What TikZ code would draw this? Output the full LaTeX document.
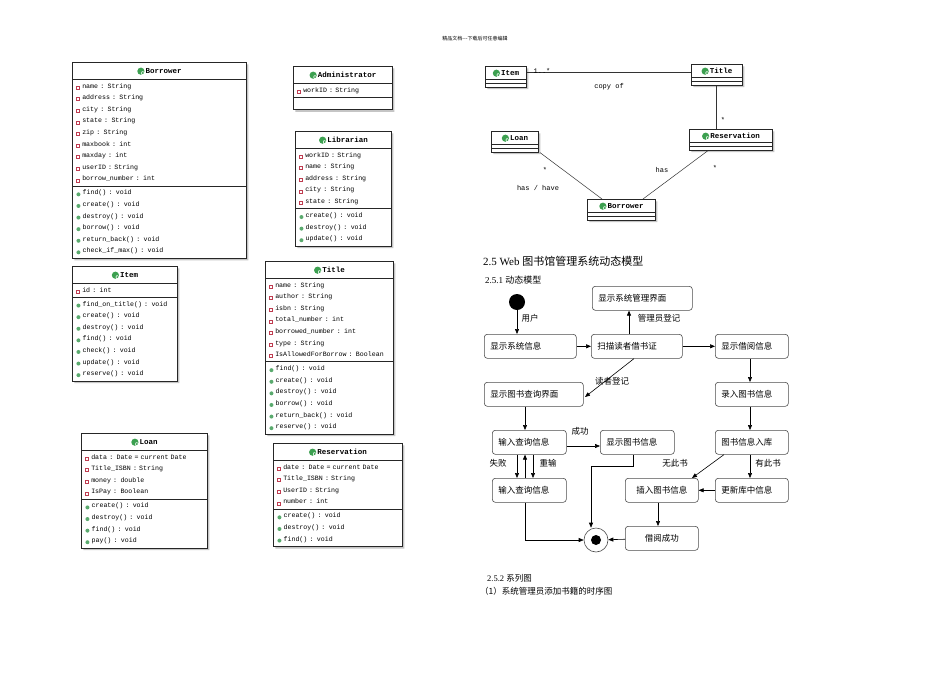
\documentclass[tikz,border=0pt]{standalone}
\usepackage{fontspec}
\setmainfont{Liberation Serif}
\newfontfamily\cjk{Noto Sans CJK SC}
\newfontfamily\mono{Liberation Mono}
\usetikzlibrary{shapes.multipart,shadows,arrows.meta}
\definecolor{attrc}{RGB}{190,60,80}
\definecolor{methc}{RGB}{90,170,110}
\definecolor{iconc}{RGB}{60,160,80}
\newcommand\atr{\tikz[baseline=-2pt]\draw[attrc,line width=0.6pt] (0pt,0pt) rectangle (3pt,-3pt);\ }
\newcommand\mth{\tikz[baseline=-2pt]\fill[methc] (1.5pt,-1.5pt) circle (2pt);\ }
\newcommand\cic{\tikz[baseline=-2.2pt]{\fill[iconc] (0pt,0pt) circle (3.6pt);\node[white,font=\bfseries\fontsize{5.5}{5.5}\selectfont,inner sep=0,text width={},align=center,rectangle] at (0pt,0pt) {C};}\,}
\tikzset{
 cls/.style={rectangle split,rectangle split parts=3,draw=black!85,line width=0.9pt,fill=white,
   drop shadow={shadow xshift=2pt,shadow yshift=-2pt,fill=black!45},
   anchor=north west,text width=#1,align=left,inner xsep=4pt,inner ysep=3.5pt,
   font=\mono\fontsize{6.6}{11.6}\selectfont,rectangle split empty part height=3pt},
 scls/.style={cls=#1,inner ysep=1.5pt,rectangle split empty part height=5pt},
 act/.style={draw=black!70,line width=0.6pt,rounded corners=3pt,fill=white,minimum height=24pt,
   font=\cjk\fontsize{8.5}{10}\selectfont,text=black,align=left},
 lab/.style={font=\cjk\fontsize{8.5}{10}\selectfont,inner sep=1pt},
 arr/.style={-{Triangle[length=5pt,width=4pt]},line width=0.6pt},
 asc/.style={line width=0.5pt,black!80},
 alab/.style={font=\mono\fontsize{7}{8}\selectfont,inner sep=1pt}
}
\newcommand\ttl[1]{\leavevmode\hfill\cic\textbf{\fontsize{7.5}{9}\selectfont #1}\rule[-2pt]{0pt}{9pt}\hfill\null}
\begin{document}
\begin{tikzpicture}[x=1pt,y=-1pt]
\useasboundingbox[fill=white] (0,0) rectangle (950,672);
\node[font=\cjk\fontsize{5}{6}\selectfont] at (475,39) {精品文档---下载后可任意编辑};

% class boxes
\node[cls=166pt] (borrower) at (72,62) {\ttl{Borrower}%
 \nodepart{two}\atr name : String\\\atr address : String\\\atr city : String\\\atr state : String\\\atr zip : String\\\atr maxbook : int\\\atr maxday : int\\\atr userID : String\\\atr borrow\_number : int
 \nodepart{three}\mth find() : void\\\mth create() : void\\\mth destroy() : void\\\mth borrow() : void\\\mth return\_back() : void\\\mth check\_if\_max() : void};
\node[cls=91pt] (admin) at (293,66) {\ttl{Administrator}%
 \nodepart{two}\atr workID : String};
\node[cls=88pt] (lib) at (295,131) {\ttl{Librarian}%
 \nodepart{two}\atr workID : String\\\atr name : String\\\atr address : String\\\atr city : String\\\atr state : String
 \nodepart{three}\mth create() : void\\\mth destroy() : void\\\mth update() : void};
\node[cls=97pt] (item) at (72,266) {\ttl{Item}%
 \nodepart{two}\atr id : int
 \nodepart{three}\mth find\_on\_title() : void\\\mth create() : void\\\mth destroy() : void\\\mth find() : void\\\mth check() : void\\\mth update() : void\\\mth reserve() : void};
\node[cls=120pt] (title) at (265,261) {\ttl{Title}%
 \nodepart{two}\atr name : String\\\atr author : String\\\atr isbn : String\\\atr total\_number : int\\\atr borrowed\_number : int\\\atr type : String\\\atr IsAllowedForBorrow : Boolean
 \nodepart{three}\mth find() : void\\\mth create() : void\\\mth destroy() : void\\\mth borrow() : void\\\mth return\_back() : void\\\mth reserve() : void};
\node[cls=118pt] (loan) at (81,433) {\ttl{Loan}%
 \nodepart{two}\atr data : Date  = current Date\\\atr Title\_ISBN : String\\\atr money : double\\\atr IsPay : Boolean
 \nodepart{three}\mth create() : void\\\mth destroy() : void\\\mth find() : void\\\mth pay() : void};
\node[cls=121pt] (resv) at (273,443) {\ttl{Reservation}%
 \nodepart{two}\atr date : Date  =  current Date\\\atr Title\_ISBN : String\\\atr UserID : String\\\atr number : int
 \nodepart{three}\mth create() : void\\\mth destroy() : void\\\mth find() : void};

% small class diagram
\node[scls=33pt] (sitem) at (485,66) {\ttl{Item}\nodepart{two}\nodepart{three}};
\node[scls=43pt] (stitle) at (691,64) {\ttl{Title}\nodepart{two}\nodepart{three}};
\node[scls=75pt] (sresv) at (689,129) {\ttl{Reservation}\nodepart{two}\nodepart{three}};
\node[scls=39pt] (sloan) at (491,131) {\ttl{Loan}\nodepart{two}\nodepart{three}};
\node[scls=60pt] (sborr) at (587,199) {\ttl{Borrower}\nodepart{two}\nodepart{three}};
\draw[asc] (sitem.east|-0,72) -- (stitle.west|-0,72);
\node[alab] at (542,71) {1..*};
\node[alab] at (609,87) {copy of};
\draw[asc] (716,0|-stitle.south) -- (716,0|-sresv.north);
\node[alab] at (723,120) {*};
\draw[asc] (540,0|-sloan.south) -- (602,0|-sborr.north);
\node[alab] at (545,170) {*};
\node[alab] at (538,188) {has / have};
\draw[asc] (708,0|-sresv.south) -- (643,0|-sborr.north);
\node[alab] at (662,170) {has};
\node[alab] at (715,168) {*};

% headings
\node[anchor=west,inner sep=0,font=\fontsize{11}{12}\selectfont] at (483,261) {2.5 Web {\cjk 图书馆管理系统动态模型}};
\node[anchor=west,inner sep=0,font=\fontsize{9}{10}\selectfont] at (485,280) {2.5.1 {\cjk 动态模型}};
\node[anchor=west,inner sep=0,font=\fontsize{8.5}{10}\selectfont] at (487,578) {2.5.2 {\cjk 系列图}};
\node[anchor=west,inner sep=0,font=\cjk\fontsize{8.5}{10}\selectfont] at (480,591) {（1）系统管理员添加书籍的时序图};

% activity diagram
\newcommand\actbox[6]{\node[act,anchor=north west,minimum width=#4-#2,minimum height=#5-#3,text width=#4-#2-12,inner xsep=6pt] (#1) at (#2,#3) {#6};}
\actbox{a1}{592}{286}{692}{310}{显示系统管理界面}
\actbox{a2}{484}{334}{576}{358}{显示系统信息}
\actbox{a3}{591}{334}{682}{358}{扫描读者借书证}
\actbox{a4}{715}{334}{788}{358}{显示借阅信息}
\actbox{a5}{484}{382}{583}{406}{显示图书查询界面}
\actbox{a6}{715}{382}{788}{406}{录入图书信息}
\actbox{a7}{492}{430}{566}{454}{输入查询信息}
\actbox{a8}{600}{430}{674}{454}{显示图书信息}
\actbox{a9}{715}{430}{788}{454}{图书信息入库}
\actbox{a10}{492}{478}{566}{502}{输入查询信息}
\actbox{a11}{625}{478}{698}{502}{\hfil 插入图书信息}
\actbox{a12}{715}{478}{788}{502}{更新库中信息}
\actbox{a13}{625}{526}{698}{550}{\hfil 借阅成功}
\node[circle,fill=black,minimum size=16pt,inner sep=0] (start) at (517,302) {};
\node[circle,draw=black!70,line width=0.6pt,fill=white,minimum size=24pt,inner sep=0] (end) at (596,540) {};
\fill (end.center) circle (5pt);

\draw[arr] (start) -- (517,0|-a2.north);
\node[lab] at (530,318) {用户};
\draw[arr] (a2) -- (a3);
\draw[arr] (629,0|-a3.north) -- (629,0|-a1.south);
\node[lab] at (659,318) {管理员登记};
\draw[arr] (a3) -- (a4);
\draw[arr] (634,0|-a3.south) -- (585,397);
\node[lab] at (612,381) {读者登记};
\draw[arr] (525,0|-a5.south) -- (525,0|-a7.north);
\draw[arr] (750,0|-a4.south) -- (750,0|-a6.north);
\draw[arr] (750,0|-a6.south) -- (750,0|-a9.north);
\draw[arr] (a7.east|-0,446) -- (a8.west|-0,446);
\node[lab] at (580,431) {成功};
\draw[arr] (517,0|-a7.south) -- (517,0|-a10.north);
\draw[arr] (525,0|-a10.north) -- (525,0|-a7.south);
\draw[arr] (533,0|-a7.south) -- (533,0|-a10.north);
\node[lab] at (498,463) {失败};
\node[lab] at (548,463) {重输};
\draw[arr] (633,0|-a8.south) -- (633,466) -- (591,466) -- (591,0|-end.north);
\draw[arr] (724,0|-a9.south) -- (692,0|-a11.north);
\node[lab] at (675,463) {无此书};
\draw[arr] (750,0|-a9.south) -- (750,0|-a12.north);
\node[lab] at (768,463) {有此书};
\draw[arr] (a12) -- (a11);
\draw[arr] (658,0|-a11.south) -- (658,0|-a13.north);
\draw[arr] (a13) -- (end);
\draw[arr] (525,0|-a10.south) -- (525,540) -- (end);
\end{tikzpicture}
\end{document}
